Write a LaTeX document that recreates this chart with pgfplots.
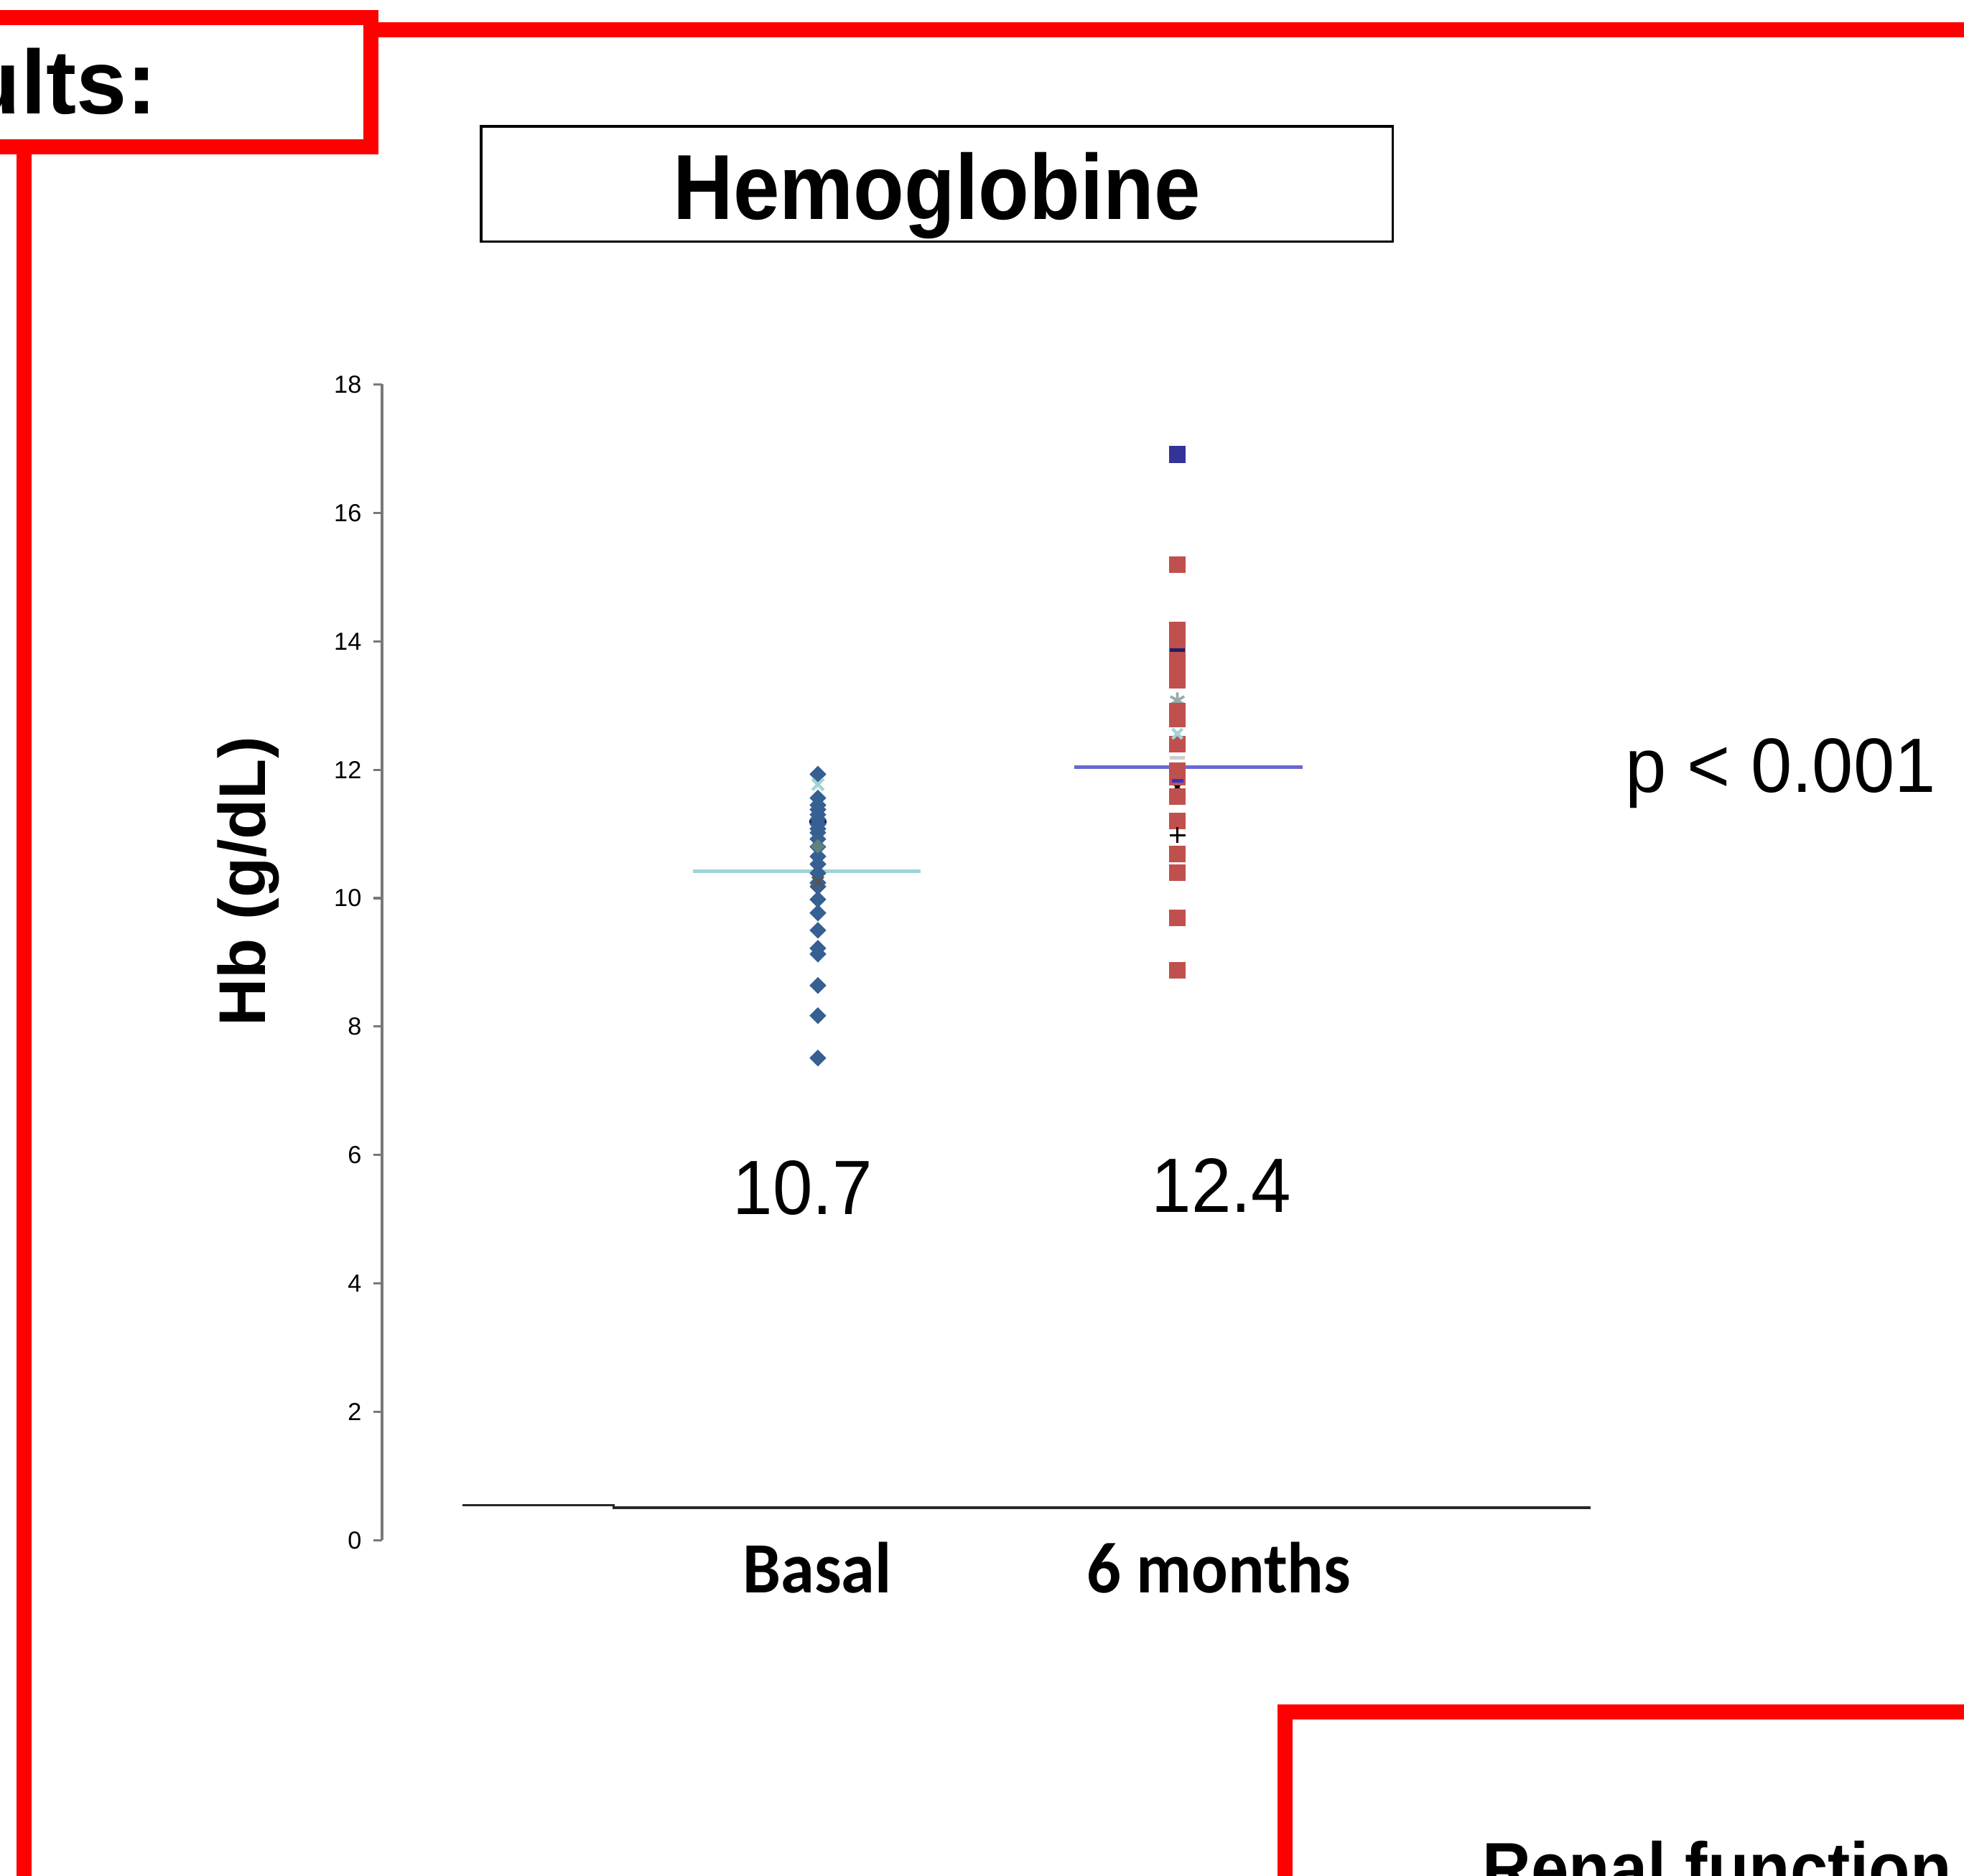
\documentclass[border=0pt]{standalone}
\usepackage{pgfplots}
\pgfplotsset{compat=1.18}
\usepackage{fontspec}
\setmainfont{Liberation Sans}
\newfontfamily\calibri{Carlito}
\definecolor{frame}{RGB}{255,0,0}
\definecolor{axisgray}{RGB}{120,120,120}
\definecolor{basalblue}{RGB}{55,96,146}
\definecolor{sixred}{RGB}{192,80,77}
\definecolor{sixblue}{RGB}{51,51,153}
\definecolor{tealline}{RGB}{160,212,212}
\definecolor{meanblue}{RGB}{105,105,210}
\definecolor{navy}{RGB}{30,30,110}
\definecolor{greenish}{RGB}{95,130,125}
\definecolor{darkx}{RGB}{85,85,85}
\definecolor{asteriskgray}{RGB}{150,170,170}
\definecolor{lightdash}{RGB}{205,205,205}
\definecolor{middash}{RGB}{50,50,200}
\definecolor{axisdark}{RGB}{40,40,40}
\begin{document}
\begin{tikzpicture}
\useasboundingbox (0,0) rectangle (15.68,14.98);
\clip (0,0) rectangle (15.68,14.98);
% red frames
\draw[frame, line width=0.12cm] (-0.5,14.84) -- (2.96,14.84) -- (2.96,13.81) -- (-0.5,13.81);
\draw[frame, line width=0.12cm] (2.96,14.74) -- (16.2,14.74);
\draw[frame, line width=0.12cm] (0.19,13.81) -- (0.19,-0.5);
\draw[frame, line width=0.12cm] (10.26,-0.5) -- (10.26,1.31) -- (16.2,1.31);
\node[anchor=base east, inner sep=0, font=\bfseries\fontsize{20.6}{24}\selectfont] at (1.26,14.074) {Results:};
% title box
\draw[black, line width=0.02cm] (3.84,13.97) rectangle (11.12,13.05);
\node[anchor=base, inner sep=0, xscale=0.9, font=\bfseries\fontsize{21}{25}\selectfont] at (7.48,13.23) {Hemoglobine};
\begin{axis}[
  at={(3.05cm,2.68cm)}, anchor=south west,
  scale only axis, width=9.65cm, height=9.23cm,
  xmin=-0.2125, xmax=3.15, ymin=0, ymax=18,
  axis x line=none, xtick=\empty,
  axis y line*=left,
  y axis line style={draw=axisgray, line width=0.5pt},
  ytick={0,2,...,18},
  tick align=outside,
  major tick length=0.07cm,
  ytick style={draw=axisgray, line width=0.5pt},
  yticklabel style={font=\fontsize{5.6}{6}\selectfont, xshift=0.03cm},
  /pgf/number format/assume math mode=true,
  clip=false,
]
% x axis line
\addplot[color=axisdark, line width=0.6pt, mark=none] coordinates {(0.0105,0.546) (0.432,0.546) (0.432,0.507) (3.15,0.507)};
% basal extras behind
\addplot[only marks, color=navy, mark=-, mark size=1.9pt, line width=0.9pt] coordinates {(1,11.19)};
% basal
\addplot[only marks, color=basalblue, mark=square*, mark size=1.15pt, mark options={rotate=45}] coordinates {
(1,11.93) (1,11.56) (1,11.45) (1,11.38) (1,11.30) (1,11.23) (1,11.15) (1,11.08) (1,11.02) (1,10.92) (1,10.80) (1,10.65) (1,10.53) (1,10.39) (1,10.24) (1,10.18) (1,9.98) (1,9.77) (1,9.50) (1,9.22) (1,9.13) (1,8.64) (1,8.17) (1,7.51)};
\addplot[only marks, color=tealline, mark=x, mark size=1.8pt, line width=0.7pt] coordinates {(1,11.77)};
\addplot[only marks, color=greenish, mark=square*, mark size=0.95pt, mark options={rotate=45}] coordinates {(1,10.81)};
\addplot[only marks, color=darkx, mark=x, mark size=1.8pt, line width=0.6pt] coordinates {(1,10.25)};
% 6 months extras behind
\addplot[only marks, color=asteriskgray, mark=asterisk, mark size=1.8pt, line width=0.6pt] coordinates {(2,13.08)};
\addplot[only marks, color=black, mark=x, mark size=1.8pt, line width=0.6pt] coordinates {(2,11.73)};
% 6 months
\addplot[only marks, color=sixred, mark=square*, mark size=1.7pt] coordinates {
(2,15.19) (2,14.17) (2,14.05) (2,13.90) (2,13.75) (2,13.60) (2,13.40) (2,12.91) (2,12.79) (2,12.40) (2,11.98) (2,11.89) (2,11.58) (2,11.20) (2,10.69) (2,10.40) (2,9.69) (2,8.88)};
\addplot[only marks, color=sixblue, mark=square*, mark size=1.7pt] coordinates {(2,16.91)};
\addplot[only marks, color=navy, mark=-, mark size=1.75pt, line width=0.8pt] coordinates {(2,13.86)};
\addplot[only marks, color=tealline, mark=x, mark size=1.6pt, line width=0.7pt] coordinates {(2,12.56)};
\addplot[only marks, color=lightdash, mark=-, mark size=1.75pt, line width=0.8pt] coordinates {(2,12.19)};
\addplot[only marks, color=middash, mark=-, mark size=1.3pt, line width=0.8pt] coordinates {(2,11.83)};
\addplot[only marks, color=black, mark=+, mark size=1.8pt, line width=0.5pt] coordinates {(2,10.98)};
% mean lines
\addplot[color=tealline, line width=0.8pt, mark=none] coordinates {(0.652,10.42) (1.286,10.42)};
\addplot[color=meanblue, line width=0.8pt, mark=none] coordinates {(1.714,12.04) (2.348,12.04)};
\end{axis}
% labels
\node[anchor=base, inner sep=0, rotate=90, font=\bfseries\fontsize{15}{18}\selectfont] at (2.12,7.94) {Hb (g/dL)};
\node[anchor=base, inner sep=0, xscale=0.94, font=\calibri\bfseries\fontsize{16.4}{20}\selectfont] at (6.525,2.26) {Basal};
\node[anchor=base, inner sep=0, xscale=0.94, font=\calibri\bfseries\fontsize{16.4}{20}\selectfont] at (9.73,2.26) {6 months};
\node[anchor=base, inner sep=0, xscale=0.93, font=\fontsize{17.5}{21}\selectfont] at (6.41,5.28) {10.7};
\node[anchor=base, inner sep=0, xscale=0.93, font=\fontsize{17.5}{21}\selectfont] at (9.75,5.30) {12.4};
\node[anchor=base west, inner sep=0, xscale=0.96, font=\fontsize{17.5}{21}\selectfont] at (12.97,8.655) {p < 0.001};
\node[anchor=base west, inner sep=0, xscale=0.93, font=\bfseries\fontsize{16.5}{20}\selectfont] at (11.83,-0.14) {Renal function};
\end{tikzpicture}
\end{document}
